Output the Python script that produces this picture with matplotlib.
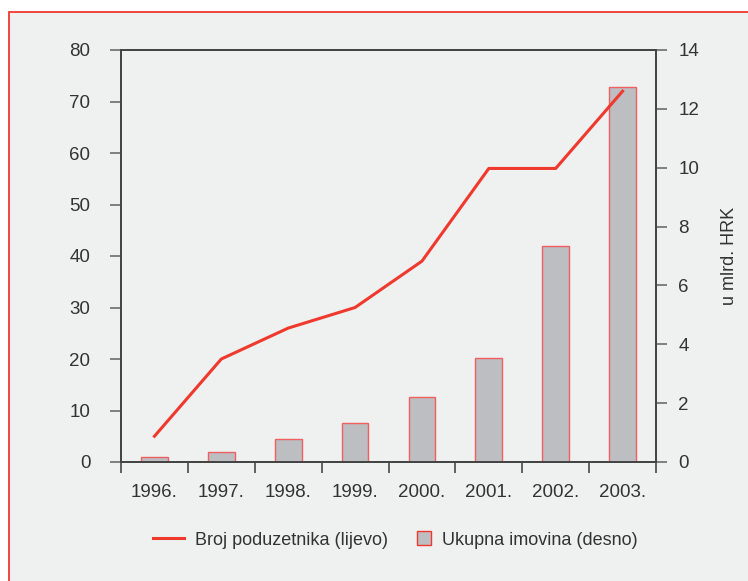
import matplotlib.pyplot as plt
import numpy as np
from matplotlib.patches import Rectangle
from matplotlib.lines import Line2D
from matplotlib.legend_handler import HandlerPatch

plt.rcParams['font.family'] = ['Liberation Sans', 'DejaVu Sans']

godine = ['1996.', '1997.', '1998.', '1999.', '2000.', '2001.', '2002.', '2003.']
broj_poduzetnika = [5, 20, 26, 30, 39, 57, 57, 72]
ukupna_imovina = [0.18, 0.34, 0.77, 1.34, 2.22, 3.54, 7.35, 12.73]

CRVENA = '#f0392d'
SIVA = '#bdbec2'
POZADINA = '#eff0f0'
TEKST = '#333333'


def kvadrat(legend, orig_handle, xdescent, ydescent, width, height, fontsize):
    # Kvadratić uz desni rub mjesta za oznaku.
    return Rectangle((-xdescent + width - height, -ydescent), height, height)


def gera_grafico():
    fig = plt.figure(figsize=(7.48, 5.81), dpi=100, facecolor='white')
    # Okvir s pozadinom.
    okvir = Rectangle((8.5 / 748, -0.05), 1.0, (581 - 12.5) / 581 + 0.05,
                      transform=fig.transFigure, facecolor=POZADINA,
                      edgecolor=CRVENA, linewidth=1.3, zorder=-5)
    fig.patches.append(okvir)

    ax = fig.add_axes([121 / 748, (581 - 462) / 581, (656 - 121) / 748, (462 - 50) / 581])
    ax2 = ax.twinx()

    x = np.arange(len(godine))
    ax2.bar(x, ukupna_imovina, width=0.4, color=SIVA, edgecolor='#f06060', linewidth=1.0, zorder=2)
    ax.plot(x, broj_poduzetnika, color=CRVENA, linewidth=2.2, zorder=3)
    ax.set_zorder(ax2.get_zorder() + 1)
    ax.patch.set_visible(False)
    ax2.patch.set_visible(False)

    ax.set_xlim(-0.5, len(godine) - 0.5)
    ax.set_ylim(0, 80)
    ax.set_yticks(range(0, 81, 10))
    ax2.set_ylim(0, 14)
    ax2.set_yticks(range(0, 15, 2))

    ax.set_xticks(np.arange(-0.5, len(godine), 1.0))
    ax.set_xticklabels([])
    ax.set_xticks(x, minor=True)
    ax.set_xticklabels(godine, minor=True)
    ax.tick_params(axis='x', which='minor', length=0, pad=16, labelsize=13.5, labelcolor=TEKST)
    ax.tick_params(axis='x', which='major', length=8, color='#555555', width=1.3)

    for a in (ax, ax2):
        for s in a.spines.values():
            s.set_color('#444444')
            s.set_linewidth(1.3)
        a.tick_params(axis='y', length=8, color='#777777', width=1.3, labelsize=13.5,
                      labelcolor=TEKST)
    ax.tick_params(axis='y', pad=14)
    ax2.tick_params(axis='y', pad=8)

    ax2.set_ylabel('u mlrd. HRK', fontsize=13, color=TEKST, labelpad=16)

    # Legenda.
    rucke = [Line2D([0], [0], color=CRVENA, linewidth=2.2),
             Rectangle((0, 0), 1, 1, facecolor=SIVA, edgecolor=CRVENA, linewidth=1.0)]
    fig.legend(rucke, ['Broj poduzetnika (lijevo)', 'Ukupna imovina (desno)'],
               loc='center', bbox_to_anchor=(395 / 748, 1 - 540 / 581), ncol=2,
               frameon=False, fontsize=13, handlelength=1.75, handleheight=0.8,
               handletextpad=0.6, columnspacing=0.6, labelcolor=TEKST,
               handler_map={Rectangle: HandlerPatch(patch_func=kvadrat)})

    fig.savefig('out.png', dpi=100, facecolor=fig.get_facecolor())


def main():
    gera_grafico()


if __name__ == '__main__':
    main()
